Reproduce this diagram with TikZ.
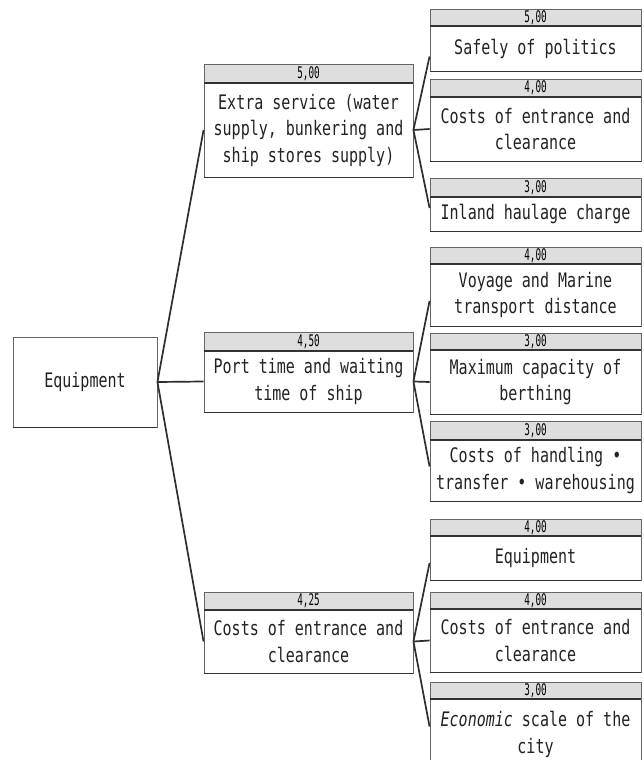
\documentclass[tikz,border=0pt]{standalone}
\usepackage{fontspec}
\newfontfamily\boxfont[FakeStretch=0.75]{DejaVu Sans Mono}
\newfontfamily\valfont[FakeStretch=0.58]{DejaVu Sans Mono}

\definecolor{hdrfill}{HTML}{DEDEDE}
\definecolor{boxline}{HTML}{666666}
\definecolor{edgedark}{HTML}{333333}
\definecolor{connline}{HTML}{2E2E2E}
\definecolor{textcol}{HTML}{222222}

\tikzset{
  headbox/.style={draw=boxline, fill=hdrfill, line width=0.9pt, inner sep=0pt,
    font={\valfont\fontsize{16}{16}\selectfont}, text=black},
  bodybox/.style={draw=boxline, fill=white, line width=0.9pt, inner sep=0pt,
    align=center, font={\boxfont\fontsize{20}{26.5}\selectfont}, text=textcol},
  rootbox/.style={bodybox},
  conn/.style={draw=connline, line width=1.7pt},
  sepline/.style={draw=edgedark, line width=2pt},
  shadeline/.style={draw=edgedark, line width=1.6pt}
}

% criterion box: name, left, right, header top, header bottom, body bottom, value, text
\newcommand\critbox[8]{%
  \pgfmathsetmacro\bxcx{(#2+#3)/2}%
  \pgfmathsetmacro\bxw{#3-#2}%
  \pgfmathsetmacro\bxhy{(#4+#5)/2}%
  \pgfmathsetmacro\bxhh{#5-#4}%
  \pgfmathsetmacro\bxby{(#5+#6)/2}%
  \pgfmathsetmacro\bxbh{#6-#5}%
  \node[bodybox, minimum width=\bxw pt, minimum height=\bxbh pt] (#1) at (\bxcx,\bxby) {#8};
  \node[headbox, minimum width=\bxw pt, minimum height=\bxhh pt] (#1h) at (\bxcx,\bxhy) {#7};
  \draw[shadeline] (#1.south west) -- (#1.south east);
  \draw[sepline] (#1h.south west) -- (#1h.south east);
}

\begin{document}
\begin{tikzpicture}[x=1pt, y=-1pt]
\clip (0,0) rectangle (644,760);
\fill[white] (0,0) rectangle (644,760);

% goal
\node[rootbox, minimum width=144pt, minimum height=90pt] (root) at (85,382) {Equipment};
\draw[shadeline] (root.south west) -- (root.south east);

% second level
\critbox{M1}{204}{413}{64}{83}{177}{5,00}{Extra service (water\\supply, bunkering and\\ship stores supply)}
\critbox{M2}{204}{413}{332}{351}{412}{4,50}{Port time and waiting\\time of ship}
\critbox{M3}{204}{413}{592}{610}{673}{4,25}{Costs of entrance and\\clearance}

% third level
\critbox{R1}{430}{641}{9}{26}{71}{5,00}{Safely of politics}
\critbox{R2}{430}{641}{79}{97}{161}{4,00}{Costs of entrance and\\clearance}
\critbox{R3}{430}{641}{178}{197}{231}{3,00}{Inland haulage charge}
\critbox{R4}{430}{641}{247}{264}{326}{4,00}{Voyage and Marine\\transport distance}
\critbox{R5}{430}{641}{333}{350}{414}{3,00}{Maximum capacity of\\berthing}
\critbox{R6}{430}{641}{421}{440}{501}{3,00}{Costs of handling •\\transfer • warehousing}
\critbox{R7}{430}{641}{519}{536}{580}{4,00}{Equipment}
\critbox{R8}{430}{641}{592}{609}{672}{4,00}{Costs of entrance and\\clearance}
\critbox{R9}{430}{641}{682}{699}{770}{3,00}{\textit{Economic} scale of the\\city}

% connectors
\draw[conn] (root.east) -- (M1.west);
\draw[conn] (root.east) -- (M2.west);
\draw[conn] (root.east) -- (M3.west);

\draw[conn] (M1.east) -- ([yshift=-8pt]R1.west);
\draw[conn] (M1.east) -- (R2.west);
\draw[conn] (M1.east) -- ([yshift=6pt]R3.west);

\draw[conn] (M2.east) -- ([yshift=-6pt]R4.west);
\draw[conn] (M2.east) -- (R5.west);
\draw[conn] (M2.east) -- ([yshift=4pt]R6.west);

\draw[conn] (M3.east) -- ([yshift=-5pt]R7.west);
\draw[conn] (M3.east) -- (R8.west);
\draw[conn] (M3.east) -- ([yshift=8pt]R9.west);
\end{tikzpicture}
\end{document}
